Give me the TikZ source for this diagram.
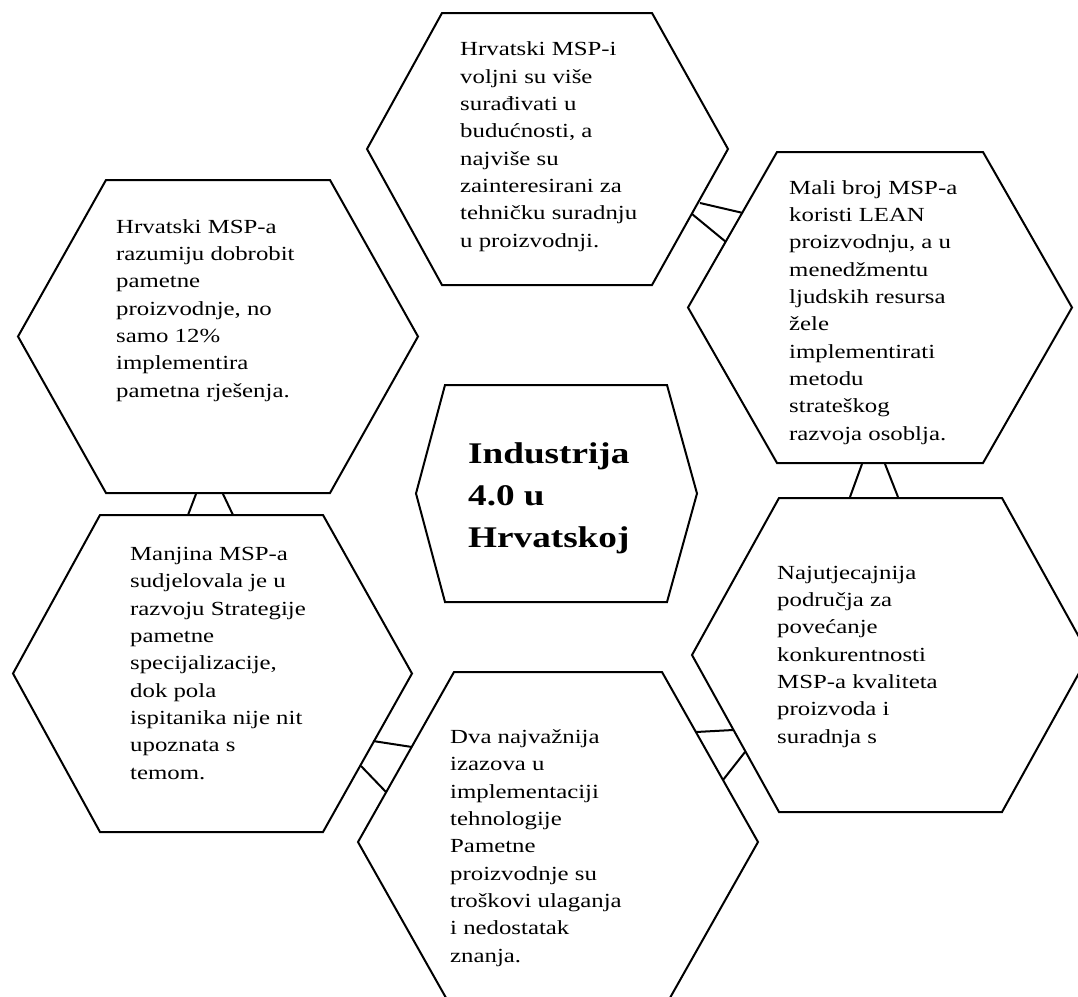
\documentclass[tikz,border=0pt]{standalone}
\usepackage{fontspec}
\setmainfont{Liberation Serif}[FakeStretch=1.24]
\begin{document}
\begin{tikzpicture}[x=1pt,y=-1pt,
  hexline/.style={draw=black, line width=2pt, line join=miter},
  conn/.style={draw=black, line width=2pt},
  txt/.style={anchor=base west, align=left, inner sep=0pt, font=\fontsize{20}{27.3}\selectfont},
  ctxt/.style={anchor=base west, align=left, inner sep=0pt, font=\fontsize{30}{42}\selectfont\bfseries}]
\useasboundingbox (0,0) rectangle (1078,996);
\clip (0,0) rectangle (1078,996);
\fill[white] (0,0) rectangle (1078,996);
% hex macro: name, left, top, top-left x, top-right x, right, bottom
\newcommand\myhex[7]{%
  \pgfmathsetmacro\midy{(#3+#7)/2}%
  \coordinate (#1-l) at (#2,\midy);
  \coordinate (#1-tl) at (#4,#3);
  \coordinate (#1-tr) at (#5,#3);
  \coordinate (#1-r) at (#6,\midy);
  \coordinate (#1-br) at (#5,#7);
  \coordinate (#1-bl) at (#4,#7);
  \draw[hexline] (#1-l) -- (#1-tl) -- (#1-tr) -- (#1-r) -- (#1-br) -- (#1-bl) -- cycle;}
\myhex{h1}{367}{13}{442}{652}{728}{285}
\myhex{h2}{688}{152}{777}{983}{1072}{463}
\myhex{h3}{18}{180}{106}{330}{418}{493}
\myhex{h4}{13}{515}{100}{323}{412}{832}
\myhex{h5}{358}{672}{454}{662}{758}{1012}
\myhex{h6}{692}{498}{779}{1002}{1089}{812}
\myhex{c}{416}{385}{445}{667}{697}{602}
% connector end points
\coordinate (a12) at (700,203); \coordinate (b12) at (743,213);
\coordinate (c12) at (692,214); \coordinate (d12) at (726,242);
\coordinate (a26) at (862,464); \coordinate (b26) at (850,497);
\coordinate (c26) at (885,464); \coordinate (d26) at (898,497);
\coordinate (a34) at (196,494); \coordinate (b34) at (188,515);
\coordinate (c34) at (223,494); \coordinate (d34) at (233,515);
\coordinate (a45) at (373,741); \coordinate (b45) at (412,747);
\coordinate (c45) at (361,766); \coordinate (d45) at (386,792);
\coordinate (a56) at (696,732); \coordinate (b56) at (733,730);
\coordinate (c56) at (745,752); \coordinate (d56) at (723,780);
\draw[conn] (a12) -- (b12); \draw[conn] (c12) -- (d12);
\draw[conn] (a26) -- (b26); \draw[conn] (c26) -- (d26);
\draw[conn] (a34) -- (b34); \draw[conn] (c34) -- (d34);
\draw[conn] (a45) -- (b45); \draw[conn] (c45) -- (d45);
\draw[conn] (a56) -- (b56); \draw[conn] (c56) -- (d56);
% texts (anchor = baseline of the last line)
\node[txt] (t1) at (460,247) {Hrvatski MSP-i\\voljni su više\\surađivati u\\budućnosti, a\\najviše su\\zainteresirani za\\tehničku suradnju\\u proizvodnji.};
\node[txt] (t2) at (789,440) {Mali broj MSP-a\\koristi LEAN\\proizvodnju, a u\\menedžmentu\\ljudskih resursa\\žele\\implementirati\\metodu\\strateškog\\razvoja osoblja.};
\node[txt] (t3) at (116,397) {Hrvatski MSP-a\\razumiju dobrobit\\pametne\\proizvodnje, no\\samo 12\%\\implementira\\pametna rješenja.};
\node[txt] (t4) at (130,779) {Manjina MSP-a\\sudjelovala je u\\razvoju Strategije\\pametne\\specijalizacije,\\dok pola\\ispitanika nije nit\\upoznata s\\temom.};
\node[txt] (t5) at (450,962) {Dva najvažnija\\izazova u\\implementaciji\\tehnologije\\Pametne\\proizvodnje su\\troškovi ulaganja\\i nedostatak\\znanja.};
\node[txt] (t6) at (777,743) {Najutjecajnija\\područja za\\povećanje\\konkurentnosti\\MSP-a kvaliteta\\proizvoda i\\suradnja s};
\node[ctxt] (tc) at (468,547) {Industrija\\4.0 u\\Hrvatskoj};
\end{tikzpicture}
\end{document}
